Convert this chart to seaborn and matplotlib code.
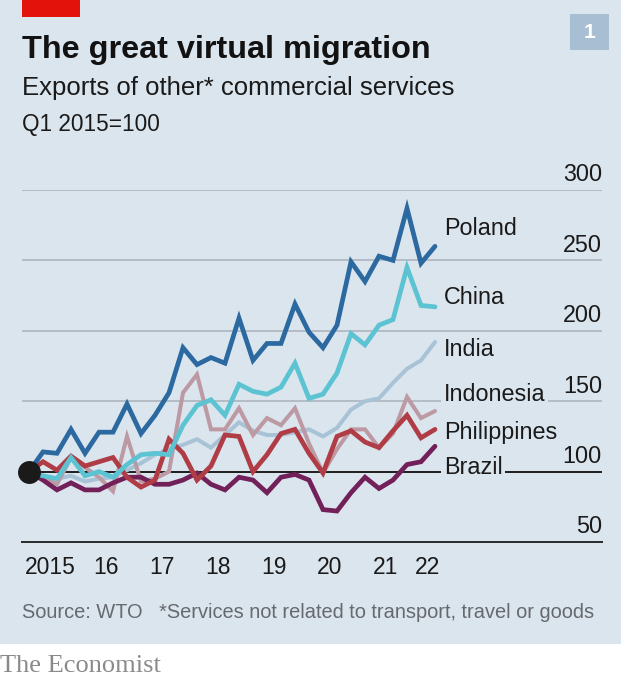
import numpy as np
import pandas as pd
import matplotlib
matplotlib.use("Agg")
import matplotlib.pyplot as plt
import seaborn as sns
from matplotlib.patches import Rectangle

# ---------------- data ----------------
quarters = pd.period_range("2015Q1", "2022Q2", freq="Q")

poland = [100, 114, 113, 130, 113, 128, 128, 148, 127, 140, 156, 188, 176, 181, 177,
          209, 179, 191, 191, 219, 199, 188, 204, 249, 235, 253, 250, 287, 248, 260]
china = [100, 97, 95, 110, 97, 100, 96, 105, 112, 113, 112, 133, 147, 151, 140,
         162, 157, 155, 160, 177, 152, 155, 170, 198, 190, 204, 208, 245, 218, 217]
india = [100, 96, 95, 97, 93, 95, 96, 101, 106, 112, 116, 119, 123, 117, 126,
         135, 129, 126, 126, 128, 130, 125, 131, 144, 150, 152, 163, 173, 179, 192]
indonesia = [100, 97, 91, 110, 103, 96, 86, 125, 93, 95, 100, 156, 169, 130, 130,
             145, 126, 138, 133, 145, 120, 99, 116, 130, 130, 117, 127, 153, 138, 143]
philippines = [100, 107, 101, 111, 104, 107, 110, 96, 89, 94, 123, 113, 94, 104, 126,
               125, 100, 112, 127, 130, 113, 99, 125, 129, 121, 117, 129, 140, 124, 130]
brazil = [100, 94, 87, 92, 87, 87, 92, 96, 96, 91, 91, 94, 99, 91, 87,
          96, 94, 85, 96, 98, 94, 73, 72, 85, 96, 88, 94, 105, 107, 118]

countries = ["India", "Indonesia", "Brazil", "Philippines", "China", "Poland"]
series = {"Poland": poland, "China": china, "India": india,
          "Indonesia": indonesia, "Philippines": philippines, "Brazil": brazil}
colors = {"Poland": "#2b69a0", "China": "#5cc3d2", "India": "#a9c3d6",
          "Indonesia": "#bc99a3", "Philippines": "#b03c45", "Brazil": "#72205a"}
widths = {"Poland": 3.4, "China": 3.4, "India": 2.9, "Indonesia": 2.9,
          "Philippines": 3.4, "Brazil": 3.4}
label_vals = {"Poland": 273, "China": 224, "India": 187, "Indonesia": 155,
              "Philippines": 128, "Brazil": 103}
y_ticks = [50, 100, 150, 200, 250, 300]
year_labels = ["2015", "16", "17", "18", "19", "20", "21", "22"]

# x position: middle of each quarter
xq = np.array([q.year + (q.quarter - 0.5) / 4 for q in quarters])

rows = []
for c in countries:
    for xv, v in zip(xq, series[c]):
        rows.append({"x": xv, "value": v, "country": c})
df = pd.DataFrame(rows)

# ---------------- style ----------------
BG = "#dbe5ee"
sns.set_style("white")
plt.rcParams["font.family"] = ["Liberation Sans", "DejaVu Sans"]

W, H = 621, 680
fig = plt.figure(figsize=(W / 100, H / 100), dpi=100, facecolor=BG)

def fx(px):
    return px / W

def fy(py):
    return 1 - py / H

# white strip at bottom
fig.patches.append(Rectangle((0, 0), 1, fy(644), transform=fig.transFigure,
                             facecolor="white", edgecolor="none", zorder=0))
# red tag
fig.patches.append(Rectangle((fx(22), fy(17)), fx(58), 17 / H, transform=fig.transFigure,
                             facecolor="#e3120b", edgecolor="none", zorder=1))
# number box
fig.patches.append(Rectangle((fx(570), fy(50)), fx(39), 36 / H, transform=fig.transFigure,
                             facecolor="#a7bed3", edgecolor="none", zorder=1))
fig.text(fx(589.5), fy(32), "1", color="white", fontsize=15, fontweight="bold",
         ha="center", va="center")

fig.text(fx(22), fy(58), "The great virtual migration", fontsize=23.3,
         fontweight="bold", color="#121212", ha="left", va="baseline")
fig.text(fx(22), fy(95), "Exports of other* commercial services", fontsize=18.5,
         color="#1a1a1a", ha="left", va="baseline")
fig.text(fx(22), fy(131), "Q1 2015=100", fontsize=16.3,
         color="#1a1a1a", ha="left", va="baseline")
fig.text(fx(22), fy(618), "Source: WTO   *Services not related to transport, travel or goods",
         fontsize=14.4, color="#666a6e", ha="left", va="baseline")
fig.text(fx(0), fy(672), "The Economist", fontsize=19, color="#8a8a8a",
         family=["Liberation Serif", "DejaVu Serif"], ha="left", va="baseline")

# ---------------- axes ----------------
x0 = 2015
xmax = x0 + 580 / 56
ax = fig.add_axes([fx(22), fy(542), fx(580), 352 / H])
ax.set_facecolor("none")

ax.set_xlim(x0, xmax)
ax.set_ylim(50, 300)

ax.set_yticks(y_ticks)
ax.set_yticklabels([])
ax.tick_params(axis="y", length=0)
ax.grid(axis="y", color="#b3bcc5", linewidth=1.4, zorder=0)
ax.grid(axis="x", visible=False)
for s in ["top", "left", "right"]:
    ax.spines[s].set_visible(False)
ax.spines["bottom"].set_color("#2a2a2a")
ax.spines["bottom"].set_linewidth(1.4)
ax.spines["bottom"].set_zorder(5)

major = list(range(2015, 2023)) + [2022.5]
ax.set_xticks(major)
ax.set_xticklabels([""] * len(major))
minor = [y + 0.5 for y in range(2015, 2022)] + [2022.25]
ax.set_xticks(minor, minor=True)
ax.set_xticklabels(year_labels, minor=True)
ax.tick_params(axis="x", which="major", direction="out", length=8, width=1.4,
               color="#2a2a2a")
ax.tick_params(axis="x", which="minor", length=0, pad=10, labelsize=16.5,
               labelcolor="#1a1a1a")

# dark 100 line
ax.axhline(100, color="#1e1e1e", linewidth=1.4, zorder=1)

# y tick labels on the right, sitting on gridlines
for v in y_ticks:
    ax.text(1.0, v + 2.5, str(v), transform=ax.get_yaxis_transform(),
            ha="right", va="bottom", fontsize=16.8, color="#1a1a1a", zorder=6)

# lines
for c in countries:
    sub = df[df["country"] == c]
    sns.lineplot(data=sub, x="x", y="value", color=colors[c], linewidth=widths[c],
                 ax=ax, legend=False, zorder=3)
    ax.lines[-1].set_solid_joinstyle("miter")

ax.scatter([xq[0]], [poland[0]], s=240, color="#1a1a1a", zorder=10, clip_on=False)

# series labels
for c in countries:
    ax.text(2022.53, label_vals[c], c, ha="left", va="center", fontsize=16.8,
            color="#1a1a1a", zorder=7,
            bbox=dict(boxstyle="square,pad=0.12", facecolor=BG, edgecolor="none"))

ax.set_xlabel("")
ax.set_ylabel("")

fig.savefig("out.png", dpi=100, facecolor=BG)
